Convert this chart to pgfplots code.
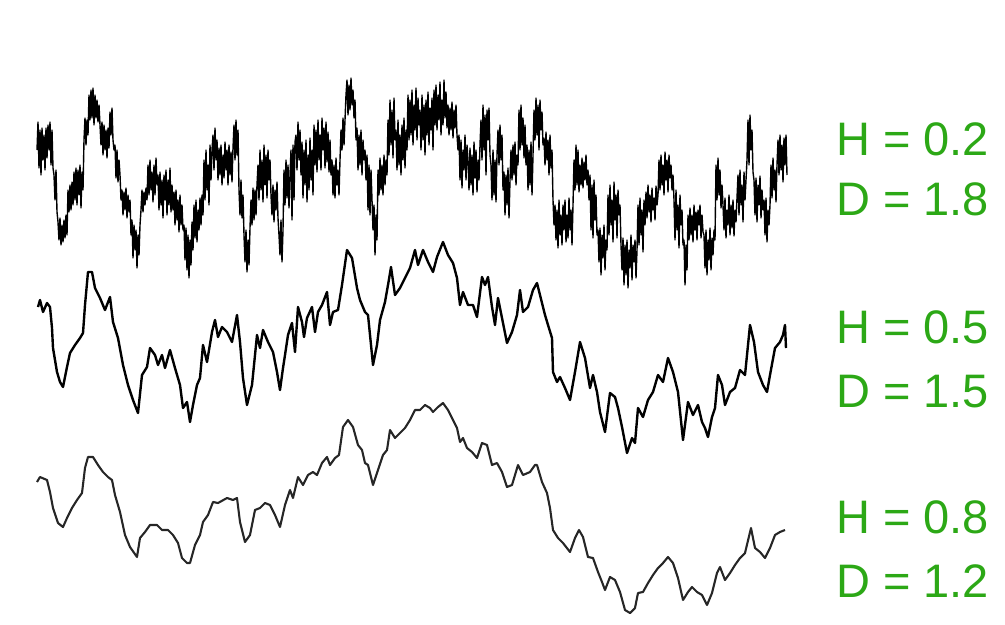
\documentclass[border=0pt]{standalone}
\usepackage{pgfplots}
\pgfplotsset{compat=1.18}
\usepackage{fontspec}
\setmainfont{Liberation Sans}
\definecolor{lblgreen}{RGB}{44,168,22}
\begin{document}
\begin{tikzpicture}
\begin{axis}[
  scale only axis, width=1005bp, height=624bp,
  xmin=0, xmax=1005, ymin=0, ymax=624, y dir=reverse,
  hide axis, clip=false,
]
% H = 0.2 (rough)
\addplot[black, line width=1.4pt, line join=round] table {
x y
37 150
38 122
39 168
40 130
41 175
42 128
43 160
44 135
45 170
46 128
47 158
48 125
49 150
50 122
51 165
52 130
53 168
54 175
55 200
56 170
57 212
58 222
59 240
60 218
61 245
62 225
63 242
64 220
65 238
66 215
67 235
68 190
69 212
70 185
71 210
72 182
73 205
74 172
75 200
76 168
77 205
78 170
79 195
80 165
81 208
82 172
83 190
84 140
85 118
86 145
87 120
88 135
89 95
90 120
91 90
92 118
93 88
94 125
95 95
96 118
97 100
98 122
99 105
100 125
101 145
102 122
103 155
104 125
105 150
106 130
107 158
108 128
109 148
110 112
111 135
112 108
113 140
114 150
115 145
116 178
117 150
118 182
119 160
120 175
121 200
122 190
123 215
124 192
125 210
126 188
127 218
128 195
129 212
130 200
131 235
132 220
133 258
134 225
135 250
136 230
137 268
138 235
139 255
140 225
141 210
142 190
143 212
144 192
145 205
146 188
147 200
148 165
149 195
150 160
151 190
152 172
153 202
154 165
155 195
156 158
157 185
158 175
159 210
160 172
161 205
162 180
163 218
164 175
165 200
166 170
167 215
168 180
169 205
170 168
171 212
172 185
173 210
174 192
175 225
176 190
177 220
178 200
179 232
180 195
181 225
182 205
183 230
184 225
185 260
186 228
187 270
188 235
189 278
190 240
191 265
192 222
193 250
194 205
195 238
196 200
197 242
198 210
199 230
200 198
201 225
202 195
203 215
204 160
205 200
206 150
207 190
208 165
209 205
210 145
211 180
212 150
213 135
214 170
215 128
216 160
217 140
218 180
219 148
220 175
221 145
222 185
223 155
224 178
225 142
226 170
227 150
228 185
229 145
230 175
231 152
232 182
233 148
234 125
235 160
236 120
237 155
238 130
239 190
240 215
241 180
242 218
243 195
244 235
245 262
246 230
247 272
248 240
249 265
250 228
251 200
252 225
253 188
254 220
255 190
256 215
257 185
258 165
259 200
260 150
261 190
262 160
263 202
264 145
265 185
266 155
267 198
268 150
269 180
270 160
271 195
272 215
273 185
274 222
275 190
276 210
277 182
278 218
279 235
280 255
281 220
282 262
283 230
284 170
285 205
286 160
287 198
288 165
289 208
290 175
291 150
292 220
293 145
294 200
295 142
296 135
297 170
298 122
299 160
300 130
301 175
302 142
303 198
304 150
305 185
306 140
307 202
308 155
309 190
310 138
311 180
312 150
313 195
314 125
315 165
316 130
317 172
318 120
319 160
320 135
321 170
322 118
323 150
324 128
325 168
326 122
327 162
328 132
329 172
330 140
331 175
332 160
333 195
334 165
335 198
336 158
337 185
338 170
339 195
340 160
341 130
342 150
343 118
344 145
345 120
346 95
347 80
348 115
349 85
350 110
351 78
352 105
353 90
354 118
355 100
356 140
357 128
358 170
359 135
360 165
361 130
362 175
363 140
364 160
365 150
366 180
367 155
368 210
369 165
370 215
371 170
372 200
373 230
374 205
375 255
376 215
377 240
378 170
379 195
380 158
381 190
382 165
383 195
384 155
385 185
386 160
387 175
388 120
389 155
390 100
391 145
392 110
393 158
394 98
395 140
396 130
397 170
398 120
399 165
400 135
401 175
402 125
403 160
404 118
405 168
406 130
407 150
408 95
409 140
410 100
411 135
412 90
413 145
414 105
415 130
416 88
417 140
418 98
419 125
420 110
421 150
422 95
423 140
424 105
425 155
426 100
427 135
428 92
429 145
430 108
431 130
432 98
433 150
434 90
435 125
436 85
437 130
438 95
439 120
440 82
441 135
442 100
443 125
444 80
445 118
446 92
447 128
448 105
449 135
450 108
451 130
452 102
453 138
454 110
455 128
456 105
457 135
458 150
459 135
460 180
461 140
462 188
463 150
464 170
465 135
466 180
467 145
468 160
469 190
470 148
471 185
472 155
473 195
474 142
475 178
476 150
477 192
478 160
479 180
480 145
481 120
482 160
483 105
484 150
485 115
486 175
487 110
488 140
489 108
490 155
491 165
492 200
493 150
494 195
495 160
496 202
497 155
498 130
499 165
500 125
501 160
502 135
503 190
504 172
505 215
506 175
507 205
508 168
509 218
510 180
511 150
512 180
513 145
514 175
515 142
516 185
517 155
518 165
519 110
520 150
521 105
522 145
523 118
524 158
525 125
526 165
527 145
528 190
529 150
530 185
531 142
532 195
533 155
534 110
535 140
536 98
537 135
538 105
539 150
540 100
541 130
542 112
543 145
544 138
545 165
546 132
547 160
548 140
549 175
550 135
551 168
552 150
553 200
554 225
555 205
556 240
557 210
558 248
559 200
560 235
561 215
562 245
563 205
564 230
565 200
566 242
567 215
568 238
569 198
570 230
571 210
572 245
573 205
574 160
575 190
576 145
577 185
578 150
579 192
580 165
581 185
582 158
583 188
584 162
585 180
586 155
587 185
588 170
589 200
590 175
591 230
592 185
593 238
594 180
595 220
596 195
597 235
598 230
599 262
600 228
601 275
602 235
603 258
604 225
605 270
606 240
607 250
608 195
609 235
610 185
611 225
612 200
613 242
614 182
615 220
616 195
617 238
618 190
619 215
620 205
621 245
622 270
623 238
624 285
625 245
626 275
627 240
628 288
629 250
630 268
631 235
632 280
633 245
634 262
635 240
636 278
637 250
638 205
639 245
640 198
641 235
642 210
643 252
644 200
645 225
646 192
647 218
648 185
649 212
650 195
651 222
652 188
653 210
654 198
655 220
656 186
657 205
658 195
659 160
660 190
661 155
662 185
663 165
664 195
665 152
666 180
667 160
668 192
669 155
670 178
671 165
672 190
673 175
674 200
675 240
676 190
677 230
678 205
679 248
680 195
681 225
682 210
683 245
684 240
685 285
686 245
687 270
688 215
689 240
690 208
691 235
692 215
693 242
694 205
695 230
696 212
697 240
698 210
699 225
700 205
701 238
702 215
703 232
704 235
705 268
706 230
707 275
708 240
709 260
710 228
711 270
712 238
713 255
714 230
715 240
716 165
717 200
718 158
719 195
720 170
721 208
722 185
723 205
724 230
725 198
726 238
727 210
728 225
729 195
730 235
731 205
732 228
733 200
734 236
735 210
736 222
737 198
738 175
739 215
740 170
741 205
742 185
743 222
744 172
745 200
746 180
747 160
748 120
749 165
750 115
751 150
752 130
753 172
754 180
755 215
756 178
757 222
758 185
759 205
760 176
761 218
762 190
763 210
764 200
765 235
766 198
767 242
768 210
769 225
770 205
771 165
772 198
773 158
774 190
775 170
776 202
777 165
778 140
779 175
780 135
781 170
782 145
783 182
784 138
785 165
786 135
787 175
};
% H = 0.5
\addplot[black, line width=2.4pt, line join=round] table {
x y
38 307
40 300
43 312
47 303
50 307
52 328
53 348
57 372
60 382
63 387
67 367
70 353
75 345
80 338
83 333
85 305
88 272
92 272
95 288
100 298
105 310
110 297
113 322
118 338
123 365
128 385
133 400
138 413
142 375
147 367
150 348
155 355
158 365
162 355
165 368
170 350
175 368
180 385
183 408
187 402
190 422
193 405
197 385
200 378
203 345
207 362
212 332
215 320
218 337
222 327
227 332
232 342
237 315
240 342
243 378
247 405
252 385
257 335
260 348
263 330
268 342
273 352
277 372
280 390
283 368
285 355
288 335
292 323
295 352
298 307
302 322
304 337
307 318
312 307
315 332
318 312
322 305
327 292
330 325
333 312
338 310
342 285
347 250
352 258
357 288
360 300
365 312
368 315
370 335
373 365
377 345
380 320
385 302
388 285
391 267
395 295
400 288
405 278
410 268
415 250
418 265
423 250
428 262
433 272
437 257
443 242
448 255
453 263
457 278
460 305
463 292
468 305
473 305
477 317
482 277
485 285
488 277
492 307
495 325
498 298
502 318
507 343
512 332
517 315
520 290
523 312
528 307
533 290
537 283
540 295
545 315
548 325
552 338
553 372
557 382
560 377
565 388
570 400
575 372
580 342
585 358
590 388
593 375
597 392
600 412
605 432
610 393
615 397
618 408
622 427
627 453
632 438
635 443
638 408
643 417
648 400
653 392
658 375
663 382
668 358
673 372
678 392
683 440
688 402
693 415
698 405
702 422
705 428
708 437
712 417
715 408
718 375
722 385
725 405
730 392
735 388
740 370
745 375
750 325
754 342
758 372
763 385
767 392
770 375
775 348
780 342
783 335
785 325
786 348
};
% H = 0.8
\addplot[black!85, line width=2.1pt, line join=round] table {
x y
37 482
40 477
47 480
50 492
53 508
58 523
63 527
67 518
72 508
77 500
82 493
85 468
88 457
93 457
98 465
103 472
108 477
112 480
115 495
120 512
125 535
130 547
137 557
140 538
145 532
150 525
157 525
162 530
168 530
173 535
178 543
182 558
187 563
190 563
195 545
200 535
203 522
208 515
213 502
218 503
227 498
233 500
237 498
240 522
245 542
250 535
255 510
260 508
265 503
270 505
275 515
280 527
285 505
290 490
293 498
298 477
303 485
308 475
313 472
317 475
322 463
327 457
330 465
335 458
339 455
343 427
348 420
353 427
358 445
362 450
365 463
368 465
373 485
378 470
383 455
387 450
390 430
395 438
400 433
405 428
410 420
415 410
420 410
425 405
430 408
433 412
438 407
443 403
448 410
453 420
457 428
460 442
463 438
467 448
472 452
477 458
482 443
487 445
492 465
497 463
502 472
507 487
512 485
518 465
523 475
530 472
535 465
537 465
542 482
547 493
550 508
553 530
558 538
563 543
570 552
575 538
579 530
583 537
588 557
593 558
598 572
602 582
605 590
610 577
615 580
620 592
625 610
630 613
635 608
638 593
643 592
648 583
653 575
658 568
663 563
668 557
673 563
678 578
683 600
688 592
692 587
697 592
702 595
707 605
712 593
717 573
720 567
725 580
730 573
735 565
740 558
745 553
751 528
755 548
760 552
765 558
770 548
775 535
780 532
785 530
};
\node[lblgreen, anchor=base west, inner sep=0pt, font=\fontsize{47bp}{56bp}\selectfont] at (axis cs:836,155) {H = 0.2};
\node[lblgreen, anchor=base west, inner sep=0pt, font=\fontsize{47bp}{56bp}\selectfont] at (axis cs:836,215) {D = 1.8};
\node[lblgreen, anchor=base west, inner sep=0pt, font=\fontsize{47bp}{56bp}\selectfont] at (axis cs:836,343) {H = 0.5};
\node[lblgreen, anchor=base west, inner sep=0pt, font=\fontsize{47bp}{56bp}\selectfont] at (axis cs:836,407) {D = 1.5};
\node[lblgreen, anchor=base west, inner sep=0pt, font=\fontsize{47bp}{56bp}\selectfont] at (axis cs:836,533) {H = 0.8};
\node[lblgreen, anchor=base west, inner sep=0pt, font=\fontsize{47bp}{56bp}\selectfont] at (axis cs:836,597) {D = 1.2};
\end{axis}
\pgfresetboundingbox
\path (current axis.south west) rectangle (current axis.north east);
\end{tikzpicture}
\end{document}
